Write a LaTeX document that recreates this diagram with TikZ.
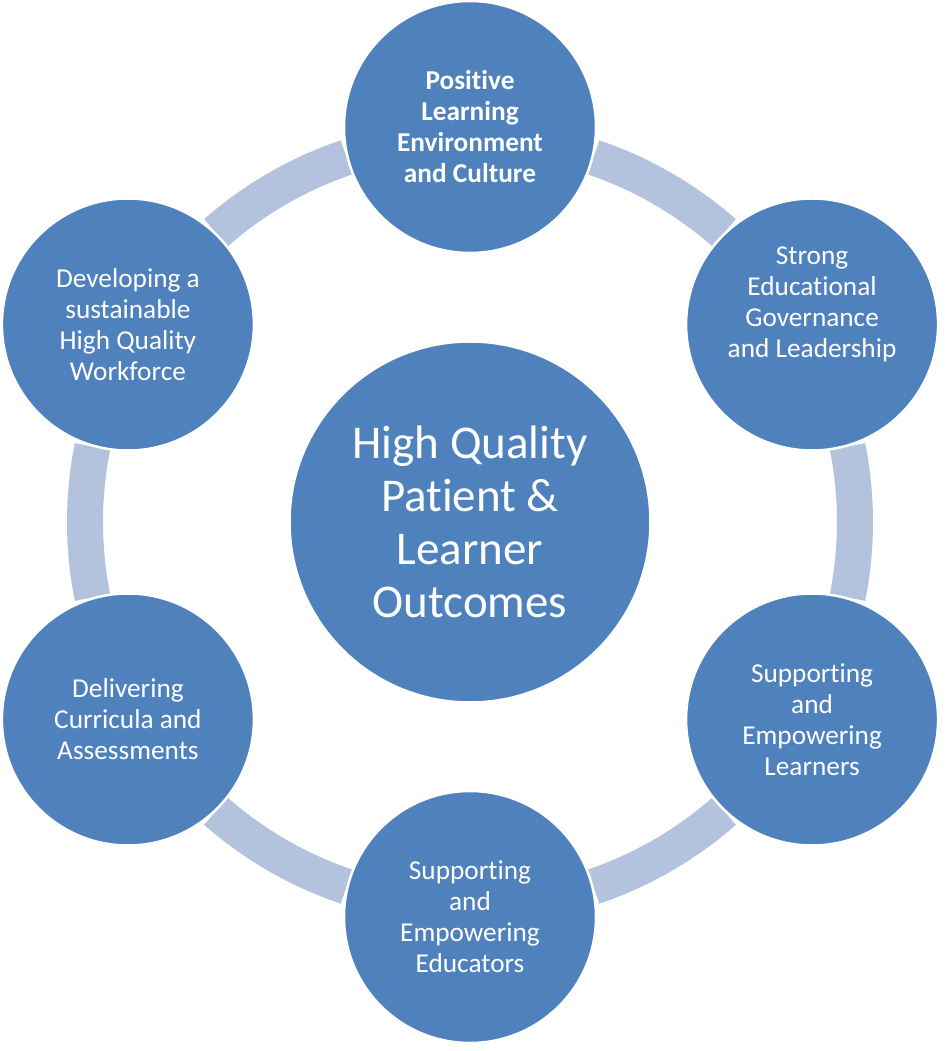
\documentclass[tikz,border=0pt]{standalone}
\usepackage{fontspec}
\setmainfont{Carlito}[Ligatures=NoCommon]
\definecolor{cblue}{HTML}{4F81BD}
\definecolor{cring}{HTML}{B3C3DE}
\begin{document}
\begin{tikzpicture}[x=1pt,y=1pt,
  outer/.style={circle, fill=cblue, draw=white, line width=2.5pt, minimum size=252pt, inner sep=0pt},
  inner/.style={circle, fill=cblue, draw=white, line width=2.5pt, minimum size=361pt, inner sep=0pt},
  otext/.style={text=white, align=center, font=\fontsize{27.3}{31}\selectfont, inner sep=0pt},
  ctext/.style={text=white, align=center, font=\fontsize{47}{53}\selectfont, inner sep=0pt},
  ringseg/.style={draw=cring, line width=36pt}]
\useasboundingbox (-470,-529) rectangle (477,522);
% ring segments
\foreach \a in {0,60,120,180,240,300}{
  \draw[ringseg] (\a-11.3:385) arc[start angle=\a-11.3, end angle=\a+11.3, radius=385];
}
% circles
\node[inner] (c0) at (0,0) {};
\node[outer] (c1) at (90:395) {};
\node[outer] (c2) at (30:395) {};
\node[outer] (c3) at (-30:395) {};
\node[outer] (c4) at (-90:395) {};
\node[outer] (c5) at (-150:395) {};
\node[outer] (c6) at (150:395) {};
% texts
\node[ctext] (t0) at (c0.center) {High Quality\\Patient \&\\Learner\\Outcomes};
\node[otext, font=\fontsize{27.3}{31}\selectfont\bfseries] (t1) at (c1.center) {Positive\\Learning\\Environment\\and Culture};
\node[otext] (t2) at ([yshift=20pt]c2.center) {Strong\\Educational\\Governance\\and Leadership};
\node[otext] (t3) at (c3.center) {Supporting\\and\\Empowering\\Learners};
\node[otext] (t4) at (c4.center) {Supporting\\and\\Empowering\\Educators};
\node[otext] (t5) at (c5.center) {Delivering\\Curricula and\\Assessments};
\node[otext] (t6) at (c6.center) {Developing a\\sustainable\\High Quality\\Workforce};
\end{tikzpicture}
\end{document}
